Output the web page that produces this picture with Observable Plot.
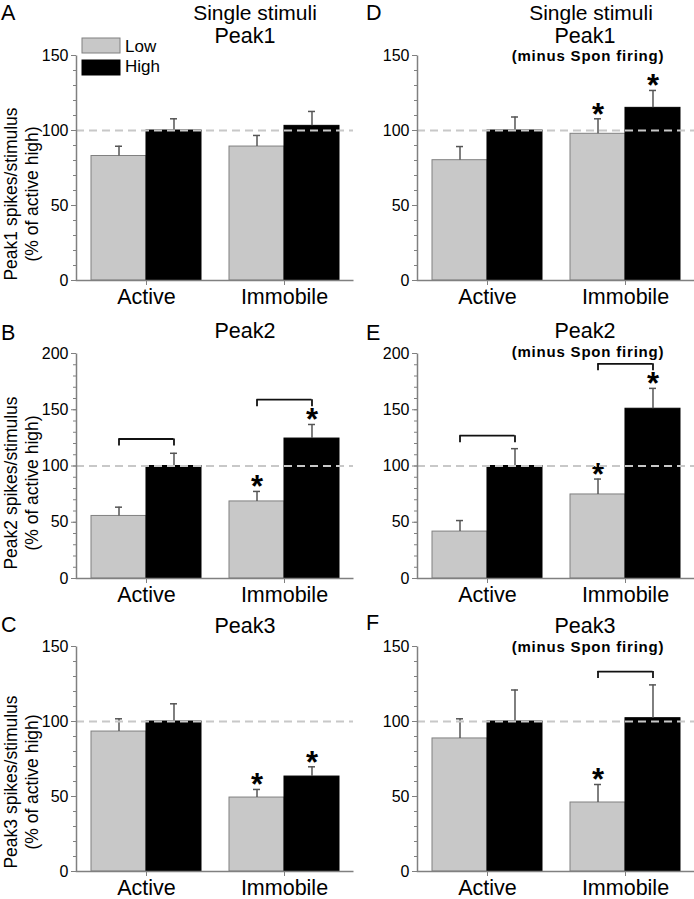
<!DOCTYPE html>
<html><head><meta charset="utf-8">
<script src="https://cdn.jsdelivr.net/npm/d3@7"></script>
<script src="https://cdn.jsdelivr.net/npm/@observablehq/plot@0.6"></script>
<style>
body{margin:0;background:#fff;overflow:hidden}
#fig{position:relative;width:694px;height:899px;overflow:hidden;font-family:"Liberation Sans",Arial,sans-serif;color:#000}
.panel{position:absolute}
#overlay{position:absolute;left:0;top:0;pointer-events:none}
</style></head><body><div id="fig"></div>
<script>
// ---------- data ----------
const conditions = ["Active", "Immobile"];
const levels = ["Low", "High"];
const peakNames = ["Peak1", "Peak2", "Peak3"];
const yLabelLine1 = ["Peak1 spikes/stimulus", "Peak2 spikes/stimulus", "Peak3 spikes/stimulus"];
const yLabelLine2 = "(% of active high)";
const topTitle = "Single stimuli";
const minusLabel = "(minus Spon firing)";
const panelLetters = ["A", "B", "C", "D", "E", "F"];
const refValue = 100;
const yTicks150 = [0, 50, 100, 150];
const yTicks200 = [0, 50, 100, 150, 200];

// A – Peak1
const lowA = [83, 89.3], lowErrA = [6.5, 7.4], highA = [100, 103.1], highErrA = [7.8, 9.6];
const starsLowA = [], starsHighA = [], bracketCondA = [], bracketYA = [];
// B – Peak2
const lowB = [55.6, 68.5], lowErrB = [7.8, 8.9], highB = [100, 124.4], highErrB = [11.3, 12.5];
const starsLowB = ["Immobile"], starsHighB = ["Immobile"], bracketCondB = ["Active", "Immobile"], bracketYB = [124, 159];
// C – Peak3
const lowC = [93.3, 49.3], lowErrC = [8.5, 5.4], highC = [100, 63.3], highErrC = [11.8, 6.5];
const starsLowC = ["Immobile"], starsHighC = ["Immobile"], bracketCondC = [], bracketYC = [];
// D – Peak1 minus spontaneous firing
const lowD = [80.2, 97.8], lowErrD = [9.1, 10], highD = [100, 115.1], highErrD = [9, 11.6];
const starsLowD = ["Immobile"], starsHighD = ["Immobile"], bracketCondD = [], bracketYD = [];
// E – Peak2 minus spontaneous firing
const lowE = [41.7, 74.7], lowErrE = [9.8, 13.7], highE = [100, 150.9], highErrE = [15.4, 18.1];
const starsLowE = ["Immobile"], starsHighE = ["Immobile"], bracketCondE = ["Active", "Immobile"], bracketYE = [127, 190.8];
// F – Peak3 minus spontaneous firing
const lowF = [88.7, 46], lowErrF = [13.1, 12], highF = [100, 102.2], highErrF = [21, 22.2];
const starsLowF = ["Immobile"], starsHighF = [], bracketCondF = ["Immobile"], bracketYF = [133.3];

// ---------- layout ----------
const LOW = "#c8c8c8", LOWSTROKE = "#808080", AX = "#808080", ERR = "#555";
const FONT = "Liberation Sans, Arial, sans-serif";
const rowTops = [0, 298, 591];
const plotH = 225, mTop = 55, mBottom = 26;
const padIn = 0.206, padOut = 0.103;

const panels = [
  {col: 0, row: 0, low: lowA, lowErr: lowErrA, high: highA, highErr: highErrA, sL: starsLowA, sH: starsHighA, bc: bracketCondA, by: bracketYA, ticks: yTicks150},
  {col: 0, row: 1, low: lowB, lowErr: lowErrB, high: highB, highErr: highErrB, sL: starsLowB, sH: starsHighB, bc: bracketCondB, by: bracketYB, ticks: yTicks200},
  {col: 0, row: 2, low: lowC, lowErr: lowErrC, high: highC, highErr: highErrC, sL: starsLowC, sH: starsHighC, bc: bracketCondC, by: bracketYC, ticks: yTicks150},
  {col: 1, row: 0, low: lowD, lowErr: lowErrD, high: highD, highErr: highErrD, sL: starsLowD, sH: starsHighD, bc: bracketCondD, by: bracketYD, ticks: yTicks150},
  {col: 1, row: 1, low: lowE, lowErr: lowErrE, high: highE, highErr: highErrE, sL: starsLowE, sH: starsHighE, bc: bracketCondE, by: bracketYE, ticks: yTicks200},
  {col: 1, row: 2, low: lowF, lowErr: lowErrF, high: highF, highErr: highErrF, sL: starsLowF, sH: starsHighF, bc: bracketCondF, by: bracketYF, ticks: yTicks150}
];

const fig = document.getElementById("fig");

function makePanel(p) {
  const left = p.col === 0 ? 0 : 347;
  const width = p.col === 0 ? 354 : 347;
  const mLeft = p.col === 0 ? 76 : 70;
  const mRight = p.col === 0 ? 1 : 0;
  const W = width - mLeft - mRight;
  const step = W / (conditions.length - padIn + 2 * padOut);
  const bw = step * (1 - padIn);
  const rows = conditions.map((c, i) => ({cond: c, low: p.low[i], lowErr: p.lowErr[i], high: p.high[i], highErr: p.highErr[i]}));
  const brackets = p.bc.map((c, i) => ({cond: c, y: p.by[i]}));
  const yMax = p.ticks[p.ticks.length - 1];
  const minor = d3.range(0, yMax + 1, 10);
  const cap = 7;
  const svg = Plot.plot({
    width, height: mTop + plotH + mBottom,
    marginLeft: mLeft, marginRight: mRight, marginTop: mTop, marginBottom: mBottom,
    style: {background: "transparent", overflow: "visible", fontFamily: FONT, color: "#000"},
    x: {type: "band", domain: conditions, paddingInner: padIn, paddingOuter: padOut},
    y: {domain: [0, yMax]},
    marks: [
      Plot.barY(rows, {x: "cond", y: "low", fill: LOW, stroke: LOWSTROKE, strokeWidth: 1, insetRight: bw / 2}),
      Plot.barY(rows, {x: "cond", y: "high", fill: "#000", stroke: "#000", strokeWidth: 1, insetLeft: bw / 2}),
      Plot.ruleX(rows, {x: "cond", y1: "low", y2: d => d.low + d.lowErr, dx: -bw / 4, stroke: ERR, strokeWidth: 1.5}),
      Plot.tickY(rows, {x: "cond", y: d => d.low + d.lowErr, insetLeft: bw / 4 - cap / 2, insetRight: 3 * bw / 4 - cap / 2, stroke: ERR, strokeWidth: 1.5}),
      Plot.ruleX(rows, {x: "cond", y1: "high", y2: d => d.high + d.highErr, dx: bw / 4, stroke: ERR, strokeWidth: 1.5}),
      Plot.tickY(rows, {x: "cond", y: d => d.high + d.highErr, insetLeft: 3 * bw / 4 - cap / 2, insetRight: bw / 4 - cap / 2, stroke: ERR, strokeWidth: 1.5}),
      Plot.text(rows.filter(d => p.sL.includes(d.cond)), {x: "cond", y: d => d.low + d.lowErr, text: () => "*", dx: -bw / 4, dy: -4, fontSize: 31, fontWeight: "bold", fill: "#000"}),
      Plot.text(rows.filter(d => p.sH.includes(d.cond)), {x: "cond", y: d => d.high + d.highErr, text: () => "*", dx: bw / 4, dy: -4, fontSize: 31, fontWeight: "bold", fill: "#000"}),
      Plot.tickY(brackets, {x: "cond", y: "y", insetLeft: bw / 4, insetRight: bw / 4, stroke: "#111", strokeWidth: 1.8}),
      Plot.ruleX(brackets, {x: "cond", y1: "y", y2: "y", dx: -bw / 4, insetTop: 0, insetBottom: -7, stroke: "#111", strokeWidth: 1.8}),
      Plot.ruleX(brackets, {x: "cond", y1: "y", y2: "y", dx: bw / 4, insetTop: 0, insetBottom: -7, stroke: "#111", strokeWidth: 1.8}),
      Plot.ruleY([refValue], {stroke: LOW, strokeWidth: 2, strokeDasharray: "8,5"}),
      Plot.axisY({ticks: minor, tickSize: 3, tickFormat: () => "", stroke: AX, label: null}),
      Plot.axisY({ticks: p.ticks, tickSize: 5, tickPadding: 3, fontSize: 16, stroke: AX, label: null}),
      Plot.axisX({tickSize: 5, tickPadding: 3, fontSize: 21.5, stroke: AX, label: null}),
      Plot.frame({stroke: AX, strokeWidth: 1.5, strokeDasharray: `0 ${W + plotH} ${W + plotH}`})
    ]
  });
  const div = document.createElement("div");
  div.className = "panel";
  div.style.left = left + "px";
  div.style.top = rowTops[p.row] + "px";
  div.style.width = width + "px";
  div.appendChild(svg);
  fig.appendChild(div);
}
panels.forEach(makePanel);

// ---------- overlay text (titles, letters, labels, legend) ----------
const ov = d3.select(fig).append("svg").attr("id", "overlay").attr("width", 694).attr("height", 899)
  .style("font-family", FONT);
const letterPos = [[1, 20], [1, 340], [1, 632], [366, 20], [366, 340], [366, 630]];
panelLetters.forEach((t, i) => ov.append("text").attr("x", letterPos[i][0]).attr("y", letterPos[i][1]).attr("font-size", 21.5).text(t));
ov.append("text").attr("x", 255).attr("y", 19.5).attr("font-size", 21).attr("text-anchor", "middle").text(topTitle);
ov.append("text").attr("x", 591).attr("y", 19.5).attr("font-size", 21).attr("text-anchor", "middle").text(topTitle);
const peakBase = [42.5, 338, 633];
const minusBase = [61, 357, 652];
peakNames.forEach((t, i) => {
  ov.append("text").attr("x", 245).attr("y", peakBase[i]).attr("font-size", 21.5).attr("text-anchor", "middle").text(t);
  ov.append("text").attr("x", 585).attr("y", peakBase[i]).attr("font-size", 21.5).attr("text-anchor", "middle").text(t);
  ov.append("text").attr("x", 588).attr("y", minusBase[i]).attr("font-size", 15).attr("font-weight", "bold")
    .attr("letter-spacing", 0.8).attr("text-anchor", "middle").text(minusLabel);
});
const yLabCenter = [194, 483, 782];
yLabelLine1.forEach((t, i) => {
  ov.append("text").attr("transform", `translate(16.5,${yLabCenter[i]}) rotate(-90)`).attr("font-size", 17.5).attr("text-anchor", "middle").text(t);
  ov.append("text").attr("transform", `translate(37.5,${yLabCenter[i]}) rotate(-90)`).attr("font-size", 17.5).attr("text-anchor", "middle").text(yLabelLine2);
});
// legend
const legFill = [LOW, "#000"], legStroke = [LOWSTROKE, "#000"], legY = [38, 60], legBase = [52, 72];
levels.forEach((t, i) => {
  ov.append("rect").attr("x", 82).attr("y", legY[i]).attr("width", 38).attr("height", 15).attr("fill", legFill[i]).attr("stroke", legStroke[i]);
  ov.append("text").attr("x", 125).attr("y", legBase[i]).attr("font-size", 17).text(t);
});
</script></body></html>
